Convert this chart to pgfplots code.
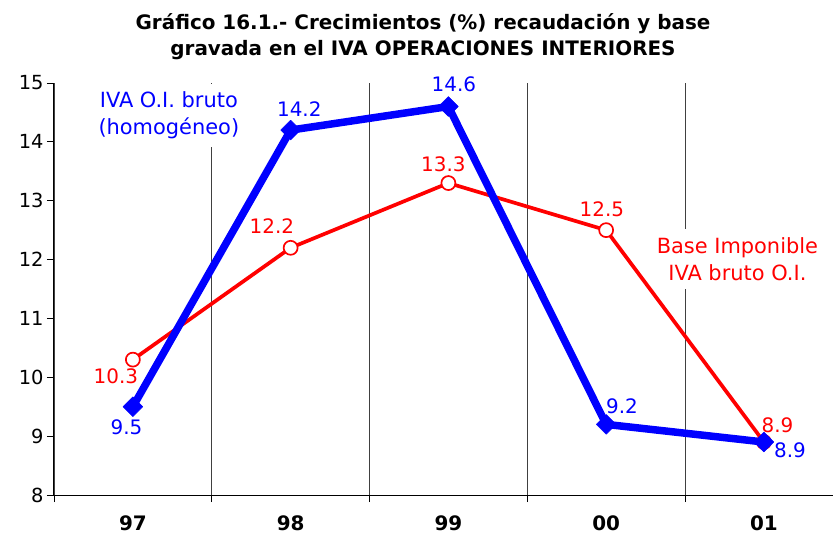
\documentclass[border=0pt]{standalone}
\usepackage{fontspec}
\setmainfont{DejaVu Sans}
\usepackage{pgfplots}
\pgfplotsset{compat=1.18}
\definecolor{ivablue}{RGB}{0,0,255}
\definecolor{ivared}{RGB}{255,0,0}
\pgfplotstableread{
x y
0 9.5
1 14.2
2 14.6
3 9.2
4 8.9
}\bruto
\pgfplotstableread{
x y
0 10.3
1 12.2
2 13.3
3 12.5
4 8.9
}\base
\begin{document}
\begin{tikzpicture}
\begin{axis}[
  name=ax,
  scale only axis,
  width=779bp, height=412bp,
  xmin=-0.5, xmax=4.438,
  ymin=8, ymax=15,
  clip=false,
  axis x line=bottom, axis y line=left,
  axis line style={-, line width=1bp, black},
  tick align=outside,
  major tick length=7bp,
  tick style={black, line width=0.8bp},
  xtick={-0.5,0.5,1.5,2.5,3.5},
  xticklabels={},
  xmajorgrids,
  major x grid style={line width=0.8bp, black!75},
  extra x ticks={0,1,2,3,4},
  extra x tick labels={97,98,99,00,01},
  extra x tick style={grid=none, major tick length=0pt,
     tick label style={font=\bfseries\fontsize{20}{24}\selectfont, anchor=base, yshift=-35bp, inner sep=0pt}},
  ytick={8,9,...,15},
  yticklabel style={font=\fontsize{19.5}{23}\selectfont, /pgf/number format/assume math mode=true},
  every axis plot/.append style={line join=round},
]
\addplot[ivared, line width=3.7bp, mark=*, mark size=7bp,
  mark options={fill=white, draw=ivared, line width=1.7bp}] table[x=x,y=y]{\base};
\addplot[ivablue, line width=7.5bp, mark=square*, mark size=7bp,
  mark options={fill=ivablue, draw=ivablue, line width=0.5bp, rotate=45}] table[x=x,y=y]{\bruto};

\begin{scope}[every node/.style={font=\fontsize{20}{24}\selectfont, inner sep=1bp}]
\node[ivablue] at (axis cs:-0.04,9.155) {9.5};
\node[ivared] at (axis cs:-0.108,10.022) {10.3};
\node[ivablue] at (axis cs:1.055,14.55) {14.2};
\node[ivablue] at (axis cs:2.035,14.983) {14.6};
\node[ivared] at (axis cs:1.968,13.624) {13.3};
\node[ivared] at (axis cs:0.881,12.57) {12.2};
\node[ivared] at (axis cs:2.973,12.859) {12.5};
\node[ivablue] at (axis cs:3.10,9.512) {9.2};
\node[ivared] at (axis cs:4.086,9.19) {8.9};
\node[ivablue] at (axis cs:4.165,8.756) {8.9};
\end{scope}

\node[ivablue, fill=white, align=center, font=\fontsize{21}{27}\selectfont, inner xsep=3bp, inner ysep=8bp] at (axis cs:0.228,14.448) {IVA O.I. bruto\\(homogéneo)};
\node[ivared, fill=white, align=center, font=\fontsize{21}{27}\selectfont, inner xsep=3bp, inner ysep=8bp] at (axis cs:3.832,12.01) {Base Imponible\\IVA bruto O.I.};

\node[anchor=base, font=\bfseries\fontsize{20}{24}\selectfont, inner sep=0pt] at ([yshift=53bp]axis description cs:0.4737,1) {Gráfico 16.1.- Crecimientos (\%) recaudación y base};
\node[anchor=base, font=\bfseries\fontsize{20}{24}\selectfont, inner sep=0pt] at ([yshift=27bp]axis description cs:0.4737,1) {gravada en el IVA OPERACIONES INTERIORES};
\end{axis}
\pgfresetboundingbox
\path[use as bounding box] ([xshift=-54bp,yshift=-40bp]ax.south west) rectangle ([yshift=83bp]ax.north east);
\end{tikzpicture}
\end{document}
